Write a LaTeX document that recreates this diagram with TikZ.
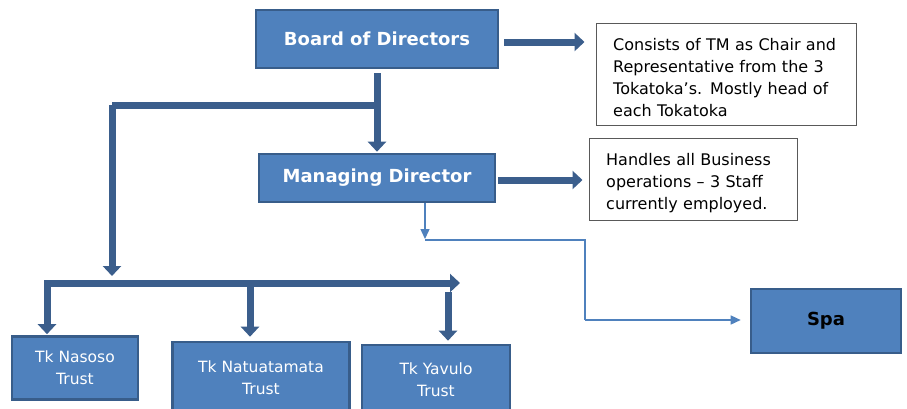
\documentclass[tikz,border=0pt]{standalone}
\usepackage{fontspec}
\setmainfont{DejaVu Sans}
\usetikzlibrary{arrows.meta}
\definecolor{boxfill}{HTML}{4F81BD}
\definecolor{boxline}{HTML}{385D8A}
\definecolor{arrowcol}{HTML}{3B5E8C}
\definecolor{notegray}{HTML}{595959}
\tikzset{
  unitbox/.style={draw=boxline, fill=boxfill, line width=2.6pt, text=white, align=center, inner sep=2pt},
  frame/.style={draw=notegray, line width=1pt},
  notetext/.style={align=left, font=\fontsize{16}{22}\selectfont, text width=#1, inner sep=0pt},
  bigarrow/.style={draw=arrowcol, line width=7pt, -{Triangle[width=18pt,length=10pt]}},
  bigline/.style={draw=arrowcol, line width=7pt},
  thinarrow/.style={draw=boxfill, line width=1.4pt, -{Triangle[width=9pt,length=10pt]}},
  thinline/.style={draw=boxfill, line width=1.4pt}
}
\begin{document}
\begin{tikzpicture}[x=1pt,y=-1pt]
\useasboundingbox (0,0) rectangle (907,408);
\clip (0,0) rectangle (907,408);
% boxes
\node[unitbox, minimum width=242pt, minimum height=58pt, font=\fontsize{18}{20}\selectfont\bfseries] (board) at (377,39) {Board of Directors};
\node[unitbox, minimum width=236pt, minimum height=48pt, font=\fontsize{18}{20}\selectfont\bfseries, text depth=0pt, text height=9pt] (md) at (377,178) {Managing Director};
\node[frame, minimum width=260pt, minimum height=102pt] (note1) at (726,74) {};
\node[notetext=250pt, anchor=north west] (note1text) at (613,38) {Consists of TM as Chair and\\Representative from the 3\\Tokatoka’s. Mostly head of\\each Tokatoka};
\node[frame, minimum width=208pt, minimum height=82pt] (note2) at (693,179) {};
\node[notetext=190pt, anchor=north west] (note2text) at (606,153) {Handles all Business\\operations – 3 Staff\\currently employed.};
\node[unitbox, text=black, minimum width=150pt, minimum height=64pt, font=\fontsize{18}{20}\selectfont\bfseries] (spa) at (826,321) {Spa};
\node[unitbox, minimum width=126pt, minimum height=63pt, font=\fontsize{15.5}{22}\selectfont] (nasoso) at (75,368) {Tk Nasoso\\Trust};
\node[unitbox, minimum width=177pt, minimum height=72pt, font=\fontsize{15.5}{22}\selectfont] (natua) at (261,378) {Tk Natuatamata\\Trust};
\node[unitbox, minimum width=148pt, minimum height=70pt, font=\fontsize{15.5}{22}\selectfont] (yavulo) at (436,380) {Tk Yavulo\\Trust};
% coordinates
\coordinate (b1) at (372,105);
\coordinate (b2) at (112,276);
\coordinate (h) at (250,283);
\coordinate (hr) at (460,283);
\coordinate (ys) at (448,292);
\coordinate (t1) at (425,240);
\coordinate (t2) at (585,320);
% thick connectors
\draw[bigarrow] ([xshift=5pt]board.east |- 0,42) -- ([xshift=-11pt]note1.west |- 0,42);
\draw[bigarrow] ([xshift=2pt]md.east |- 0,180) -- ([xshift=-6pt]note2.west |- 0,180);
\draw[bigarrow] ([yshift=-4pt]board.south) -- ([yshift=1pt]md.north);
\draw[bigline] ([xshift=3.5pt]b1) -- (b1 -| b2);
\draw[bigarrow] (b1 -| b2) -- (b2);
\draw[bigarrow] (h) -- (hr);
\draw[bigarrow] (h) -| ([xshift=-28pt,yshift=1pt]nasoso.north);
\draw[bigarrow] (h) -- ([yshift=4pt]h |- natua.north);
\draw[bigarrow] (ys) -- ([yshift=3pt]ys |- yavulo.north);
% thin connectors
\draw[thinarrow] (md.south -| t1) -- ([yshift=1pt]t1);
\draw[thinline] (t1) -| (t2);
\draw[thinarrow] (t2) -- ([xshift=-9pt]spa.west |- t2);
\end{tikzpicture}
\end{document}
